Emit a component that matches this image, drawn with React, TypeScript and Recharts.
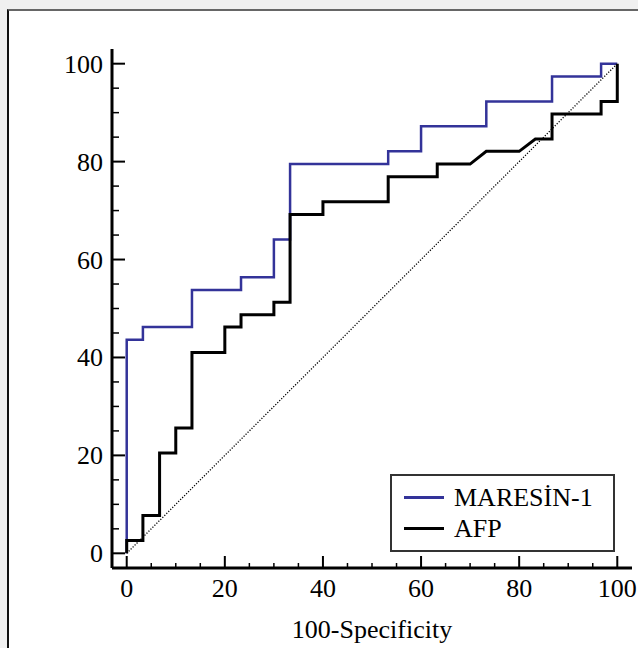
import React from 'react';
import { LineChart, Line, XAxis, YAxis, ReferenceLine, Legend } from 'recharts';

const maresinFpr = [0, 0, 3.3, 3.3, 13.3, 13.3, 23.3, 23.3, 30, 30, 33.3, 33.3, 53.3, 53.3, 60, 60, 73.3, 73.3, 86.7, 86.7, 96.7, 96.7, 100];
const maresinTpr = [0, 43.6, 43.6, 46.2, 46.2, 53.8, 53.8, 56.4, 56.4, 64.1, 64.1, 79.5, 79.5, 82.1, 82.1, 87.2, 87.2, 92.3, 92.3, 97.4, 97.4, 100, 100];

const afpFpr = [0, 0, 3.3, 3.3, 6.7, 6.7, 10, 10, 13.3, 13.3, 20, 20, 23.3, 23.3, 30, 30, 33.3, 33.3, 40, 40, 53.3, 53.3, 63.3, 63.3, 70, 73.3, 80, 83.3, 86.7, 86.7, 96.7, 96.7, 100, 100];
const afpTpr = [0, 2.6, 2.6, 7.7, 7.7, 20.5, 20.5, 25.6, 25.6, 41.0, 41.0, 46.2, 46.2, 48.7, 48.7, 51.3, 51.3, 69.2, 69.2, 71.8, 71.8, 76.9, 76.9, 79.5, 79.5, 82.1, 82.1, 84.6, 84.6, 89.7, 89.7, 92.3, 92.3, 100];

const tickValues = [0, 5, 10, 15, 20, 25, 30, 35, 40, 45, 50, 55, 60, 65, 70, 75, 80, 85, 90, 95, 100];
const majorTicks = [0, 20, 40, 60, 80, 100];

const seriesNames = ['MARESİN-1', 'AFP'];
const seriesColors = ['#333399', '#000000'];

const maresinData = maresinFpr.map((x, i) => ({ x, y: maresinTpr[i] }));
const afpData = afpFpr.map((x, i) => ({ x, y: afpTpr[i] }));

const FONT = '"Liberation Serif", "Times New Roman", serif';

const XTick = (props: any) => {
  const { x, y, payload } = props;
  const major = majorTicks.includes(payload.value);
  return (
    <g>
      <line x1={x} x2={x} y1={y} y2={y - (major ? 12 : 5)} stroke="#000" strokeWidth={major ? 2 : 1.5} />
      {major && (
        <text x={x} y={y + 29} textAnchor="middle" fontFamily={FONT} fontSize={26} fill="#000">
          {payload.value}
        </text>
      )}
    </g>
  );
};

const YTick = (props: any) => {
  const { x, y, payload } = props;
  const major = majorTicks.includes(payload.value);
  return (
    <g>
      <line x1={x} x2={x + (major ? 13 : 7)} y1={y} y2={y} stroke="#000" strokeWidth={major ? 2 : 1.5} />
      {major && (
        <text x={x - 9} y={y + 9} textAnchor="end" fontFamily={FONT} fontSize={26} fill="#000">
          {payload.value}
        </text>
      )}
    </g>
  );
};

const LegendBox = (props: any) => {
  const payload = (props.payload || [])
    .filter((p: any) => seriesNames.includes(p.value))
    .slice()
    .sort((a: any, b: any) => seriesNames.indexOf(a.value) - seriesNames.indexOf(b.value));
  return (
    <div
      style={{
        boxSizing: 'border-box',
        width: 225,
        height: 78,
        border: '2px solid #333',
        background: '#fff',
        paddingTop: 6,
        paddingLeft: 12,
        fontFamily: FONT,
        fontSize: 26,
        color: '#000',
      }}
    >
      {payload.map((p: any) => (
        <div key={p.value} style={{ display: 'flex', alignItems: 'center', height: 31 }}>
          <span style={{ display: 'inline-block', width: 40, height: 3, background: p.color, marginRight: 10 }} />
          <span style={{ lineHeight: '31px' }}>{p.value}</span>
        </div>
      ))}
    </div>
  );
};

export default function App() {
  return (
    <div style={{ position: 'fixed', left: 0, top: 0, width: 638, height: 648, background: '#f0f0f0', overflow: 'hidden' }}>
      <div
        style={{
          position: 'absolute',
          left: 7,
          top: 9,
          width: 700,
          height: 700,
          background: '#fff',
          borderTop: '2px solid #666',
          borderLeft: '2px solid #111',
        }}
      />
      <div style={{ position: 'absolute', left: 0, top: 0 }}>
        <LineChart width={638} height={648} margin={{ top: 49, right: 6, left: 52, bottom: 10 }}>
          <XAxis
            type="number"
            dataKey="x"
            domain={[-3, 103]}
            ticks={tickValues}
            interval={0}
            allowDataOverflow
            height={70}
            tickSize={0}
            tickMargin={0}
            tick={<XTick />}
            axisLine={{ stroke: '#000', strokeWidth: 3 }}
            tickLine={false}
            label={{ value: '100-Specificity', position: 'insideBottom', offset: 0, fontFamily: FONT, fontSize: 26, fill: '#000' }}
          />
          <YAxis
            type="number"
            dataKey="y"
            domain={[-3, 103]}
            ticks={tickValues}
            interval={0}
            allowDataOverflow
            width={60}
            tickSize={0}
            tickMargin={0}
            tick={<YTick />}
            axisLine={{ stroke: '#000', strokeWidth: 3 }}
            tickLine={false}
          />
          <ReferenceLine
            segment={[{ x: 0, y: 0 }, { x: 100, y: 100 }]}
            stroke="#000"
            strokeWidth={1.3}
            strokeDasharray="1.2 1.6"
          />
          <Line
            data={maresinData}
            dataKey="y"
            name={seriesNames[0]}
            type="linear"
            stroke={seriesColors[0]}
            strokeWidth={2.5}
            dot={false}
            activeDot={false}
            isAnimationActive={false}
          />
          <Line
            data={afpData}
            dataKey="y"
            name={seriesNames[1]}
            type="linear"
            stroke={seriesColors[1]}
            strokeWidth={3}
            dot={false}
            activeDot={false}
            isAnimationActive={false}
          />
          <Legend
            layout="vertical"
            align="center"
            verticalAlign="middle"
            content={<LegendBox />}
            wrapperStyle={{ position: 'absolute', left: 390, top: 474, width: 225, height: 78 }}
          />
        </LineChart>
      </div>
    </div>
  );
}
